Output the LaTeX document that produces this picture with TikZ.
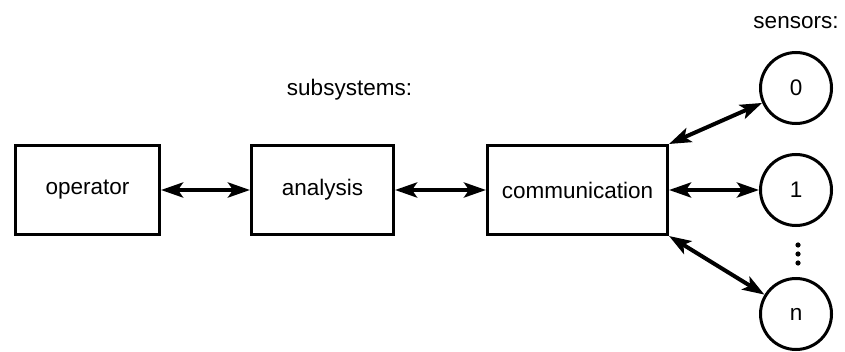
\documentclass[tikz,border=0pt]{standalone}
\usepackage{fontspec}
\setmainfont{Liberation Sans}
\usetikzlibrary{positioning, arrows.meta}

\begin{document}
\begin{tikzpicture}[x=1pt, y=1pt, font=\fontsize{22.5}{27}\selectfont,
	b/.style={rectangle, draw, line width=3pt, minimum height=89pt},
	c/.style={circle, draw, line width=3pt, minimum size=71pt, inner sep=0pt},
	l/.style={inner sep=0pt},
	link/.style={line width=4pt, {Stealth[length=22pt,width=15pt,inset=5pt]}-{Stealth[length=22pt,width=15pt,inset=5pt]}}]
		\useasboundingbox (0,0) rectangle (845,351);
		\node[b, minimum width=144pt] (op) at (87.5,161) {operator};
		\node[b, minimum width=142pt, right=89pt of op] (an) {analysis};
		\node[b, minimum width=180pt, right=91pt of an] (com) {communication};
		\node[l, above=44pt of an, xshift=27pt] (sub_label) {subsystems:};

		\node[c, right=90pt of com] (s1) {1};
		\node[c, above=28pt of s1] (s0) {0};
		\node[c, below=50pt of s1] (sn) {n};
		\node[l, above=22pt of s0] (sens_label) {sensors:};
		\foreach \y in {106,97,88}
			\fill (798,\y) circle (2.6pt);


		\path[link] (op) edge (an);
		\path[link] (an) edge (com);
		\path[link] (com.north east) edge (s0);
		\path[link] (com) edge (s1);
		\path[link] (com.south east) edge (sn);
	\end{tikzpicture}
\end{document}
